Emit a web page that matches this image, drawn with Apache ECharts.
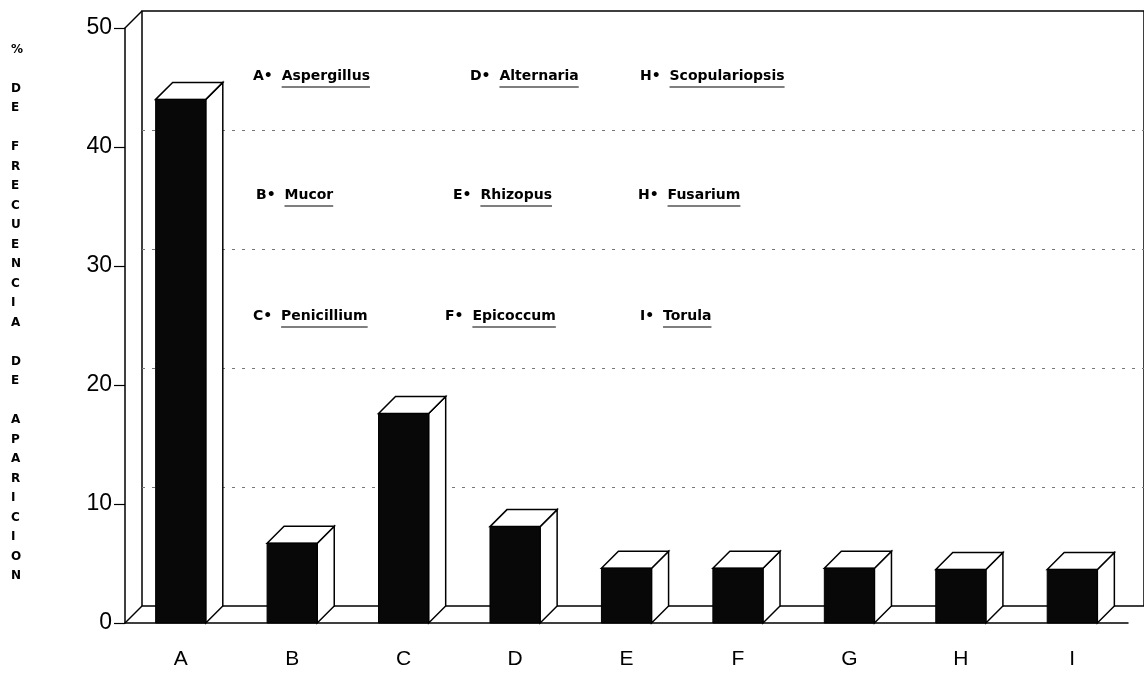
<!DOCTYPE html>
<html>
<head>
<meta charset="utf-8">
<script src="https://cdn.jsdelivr.net/npm/echarts@6/dist/echarts.min.js"></script>
<style>
  html, body { margin: 0; padding: 0; background: #fff; }
  #chart { width: 1144px; height: 679px; }
</style>
</head>
<body>
<div id="chart"></div>
<script>
// categories and % frequency (front face of each bar)
const categories = ['A', 'B', 'C', 'D', 'E', 'F', 'G', 'H', 'I'];
const frequency = [44, 6.7, 17.6, 8.1, 4.6, 4.6, 4.6, 4.5, 4.5];

const yMin = 0, yMax = 50, yStep = 10;
const yTitleWords = ['%', 'DE', 'FRECUENCIA', 'DE', 'APARICION'];

// key printed inside the plot, in column order
const legendCodes = ['A', 'B', 'C', 'D', 'E', 'F', 'H', 'H', 'I'];
const legendNames = ['Aspergillus', 'Mucor', 'Penicillium', 'Alternaria', 'Rhizopus', 'Epicoccum',
  'Scopulariopsis', 'Fusarium', 'Torula'];

// layout
const W = 1144, H = 679;
const G = { left: 125, top: 28, right: 16, bottom: 56 };
const DEPTH = 17;
const legendX = [[253, 256, 253], [470, 453, 445], [640, 638, 640]];
const legendY = [78, 197, 318];
const LEGEND_FONT = 'bold 14px "DejaVu Sans"';

const chart = echarts.init(document.getElementById('chart'));

function renderBar(params, api) {
  const top = api.coord([api.value(0), api.value(1)]);
  const base = api.coord([api.value(0), 0]);
  const w = api.size([1, 0])[0] * 0.45;
  const l = top[0] - w / 2, r = top[0] + w / 2;
  const face = { fill: '#fff', stroke: '#000', lineWidth: 1.5 };
  return {
    type: 'group',
    children: [
      { type: 'polygon', shape: { points: [[r, top[1]], [r + DEPTH, top[1] - DEPTH], [r + DEPTH, base[1] - DEPTH], [r, base[1]]] }, style: face },
      { type: 'polygon', shape: { points: [[l, top[1]], [l + DEPTH, top[1] - DEPTH], [r + DEPTH, top[1] - DEPTH], [r, top[1]]] }, style: face },
      { type: 'rect', shape: { x: l, y: top[1], width: w, height: base[1] - top[1] }, style: { fill: '#080808', stroke: '#000', lineWidth: 1 } }
    ]
  };
}

// text widths for the underlines of the key
const ctx = document.createElement('canvas').getContext('2d');
ctx.font = LEGEND_FONT;

const legendGraphics = [];
legendCodes.forEach((code, i) => {
  const col = Math.floor(i / 3), row = i % 3;
  const x = legendX[col][row], y = legendY[row];
  const prefix = code + '\u2022 ';
  const px = ctx.measureText(prefix).width + 4;
  const nw = ctx.measureText(legendNames[i]).width;
  legendGraphics.push(
    { type: 'text', left: x, top: y - 9, style: { text: prefix, font: LEGEND_FONT, fill: '#000' } },
    { type: 'text', left: x + px, top: y - 9, style: { text: legendNames[i], font: LEGEND_FONT, fill: '#000' } },
    { type: 'line', shape: { x1: x + px, y1: y + 9, x2: x + px + nw, y2: y + 9 }, style: { stroke: '#000', lineWidth: 1.2 } }
  );
});

const yTitle = yTitleWords.map(w => w.split('').join('\n')).join('\n\n');
const frontBottom = H - G.bottom;

const option = {
  backgroundColor: '#fff',
  animation: false,
  grid: [
    { left: G.left, top: G.top, right: G.right, bottom: G.bottom },
    { left: G.left + DEPTH, top: G.top - DEPTH, right: -10, bottom: G.bottom + DEPTH,
      show: true, borderColor: '#000', borderWidth: 1.5, backgroundColor: 'transparent' }
  ],
  xAxis: [
    {
      type: 'category', data: categories, gridIndex: 0,
      axisLine: { lineStyle: { color: '#000', width: 1.5 } },
      axisTick: { alignWithLabel: true, length: 13, lineStyle: { color: '#000', width: 1.2 } },
      axisLabel: { color: '#000', fontSize: 21, fontFamily: 'Liberation Sans', margin: 26 }
    },
    { type: 'value', gridIndex: 1, show: false, min: 0, max: 1 }
  ],
  yAxis: [
    {
      type: 'value', gridIndex: 0, min: yMin, max: yMax, interval: yStep,
      axisLine: { show: true, lineStyle: { color: '#000', width: 1.5 } },
      axisTick: { show: true, length: 11, lineStyle: { color: '#000', width: 1.2 } },
      axisLabel: { color: '#000', fontSize: 23, fontFamily: 'Liberation Sans', margin: 13 },
      splitLine: { show: false }
    },
    {
      type: 'value', gridIndex: 1, min: yMin, max: yMax, interval: yStep,
      axisLine: { show: false }, axisTick: { show: false }, axisLabel: { show: false },
      splitLine: { show: true, showMinLine: false, showMaxLine: false, lineStyle: { color: '#777', type: [3, 7], width: 1 } }
    }
  ],
  series: [{
    type: 'custom',
    xAxisIndex: 0, yAxisIndex: 0,
    renderItem: renderBar,
    encode: { x: 0, y: 1 },
    data: categories.map((c, i) => [i, frequency[i]]),
    z: 5
  }],
  graphic: [
    { type: 'line', shape: { x1: G.left, y1: G.top, x2: G.left + DEPTH, y2: G.top - DEPTH }, style: { stroke: '#000', lineWidth: 1.5 } },
    { type: 'line', shape: { x1: G.left, y1: frontBottom, x2: G.left + DEPTH, y2: frontBottom - DEPTH }, style: { stroke: '#000', lineWidth: 1.5 } },
    { type: 'text', left: 11, top: 40, style: { text: yTitle, font: 'bold 12px "DejaVu Sans"', lineHeight: 19.5, fill: '#000', align: 'center' } }
  ].concat(legendGraphics)
};

chart.setOption(option);
</script>
</body>
</html>
